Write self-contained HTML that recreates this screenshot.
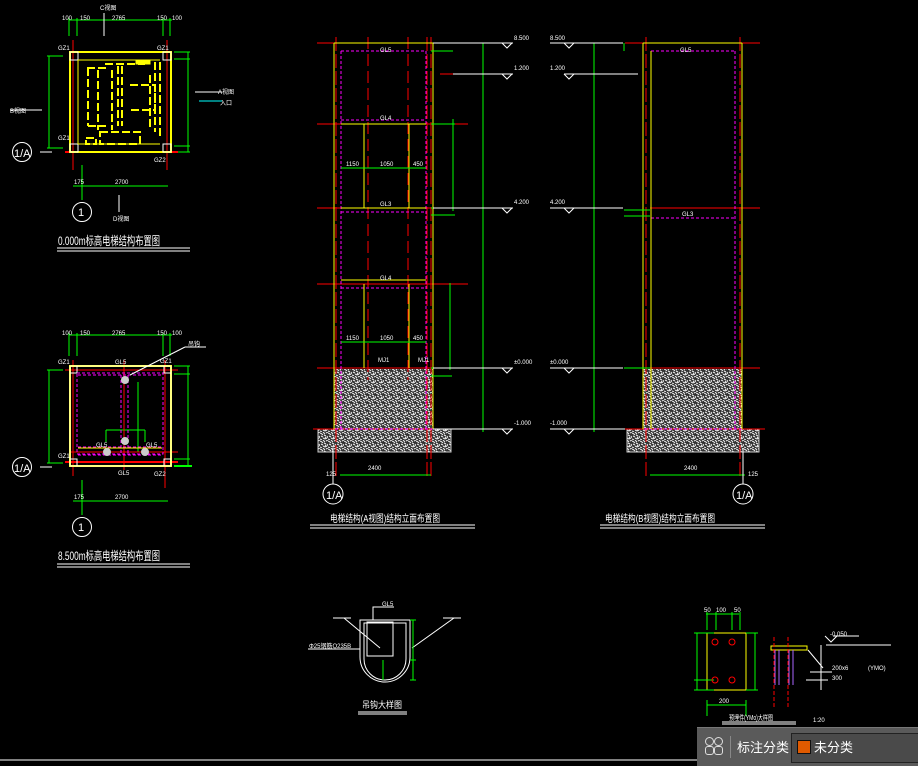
<!DOCTYPE html>
<html><head><meta charset="utf-8"><style>
html,body{margin:0;padding:0;background:#000;width:918px;height:765px;overflow:hidden}
svg{display:block}
text{font-family:"Liberation Sans","Noto Sans CJK SC",sans-serif;fill:#fff}
.tb{position:absolute;left:697px;top:727px;width:221px;height:38px;background:#5a5a5a;border-top:1px solid #777}
</style></head><body>
<svg width="918" height="765" viewBox="0 0 918 765" xmlns="http://www.w3.org/2000/svg">
<defs>
<pattern id="h" width="8" height="8" patternUnits="userSpaceOnUse">
<rect width="8" height="8" fill="#333"/>
<path d="M0 1l2 1M3 0l2 2M6 1l2-1M1 4l2 1M4 3l2 1M7 4l1 2M0 7l2 1M3 6l2 1M5 7l2-1M2 2l1 1M6 5l-1 1" stroke="#eee" stroke-width="1"/>
</pattern>
</defs>
<g fill="none" stroke-width="1">
<!-- ===== Plan 1 ===== -->
<g>
<line x1="69" y1="20" x2="172" y2="20" stroke="#0f0"/>
<line x1="69" y1="18" x2="69" y2="36" stroke="#0f0"/><line x1="77" y1="18" x2="77" y2="36" stroke="#0f0"/><line x1="163" y1="18" x2="163" y2="36" stroke="#0f0"/><line x1="170" y1="18" x2="170" y2="36" stroke="#0f0"/>
<line x1="49" y1="56" x2="49" y2="148" stroke="#0f0"/><line x1="47" y1="56" x2="63" y2="56" stroke="#0f0"/><line x1="47" y1="148" x2="63" y2="148" stroke="#0f0"/>
<line x1="188" y1="52" x2="188" y2="152" stroke="#0f0"/>
<line x1="174" y1="52" x2="190" y2="52" stroke="#0f0"/><line x1="174" y1="59" x2="190" y2="59" stroke="#0f0"/><line x1="174" y1="146" x2="190" y2="146" stroke="#0f0"/><line x1="174" y1="152" x2="190" y2="152" stroke="#0f0"/>
<line x1="73" y1="186" x2="168" y2="186" stroke="#0f0"/>
<line x1="82" y1="165" x2="82" y2="200" stroke="#0f0"/>
<line x1="73" y1="40" x2="73" y2="170" stroke="#f00"/><line x1="167" y1="40" x2="167" y2="170" stroke="#f00"/>
<line x1="65" y1="152" x2="178" y2="152" stroke="#f00" stroke-width="2"/>
<rect x="70" y="52" width="101" height="100" stroke="#ff0" stroke-width="2"/>
<rect x="70" y="52" width="8" height="8" stroke="#fff"/><rect x="163" y="52" width="8" height="8" stroke="#fff"/><rect x="70" y="144" width="8" height="8" stroke="#fff"/><rect x="163" y="144" width="8" height="8" stroke="#fff"/>
<line x1="78" y1="60" x2="160" y2="60" stroke="#ff0"/><line x1="78" y1="144" x2="160" y2="144" stroke="#ff0"/>
<line x1="78" y1="60" x2="78" y2="144" stroke="#ff0"/>
<path d="M87 68h20M88 68v58M88 126h18M98 70v60M112 70v60M130 85h25v25h-25M105 64h40M155 62v70M160 62v75M100 132h40v12h-40zM86 138h10v6h-10zM118 66v60M122 66v60M150 75v55" stroke="#ff0" stroke-dasharray="8 3" stroke-width="2"/>
<rect x="136" y="60" width="14" height="4" fill="#ff0" stroke="#ff0"/>
<line x1="10" y1="110" x2="42" y2="110" stroke="#fff"/>
<line x1="195" y1="92" x2="222" y2="92" stroke="#fff"/><line x1="199" y1="101" x2="222" y2="101" stroke="#0ff"/>
<line x1="104" y1="13" x2="104" y2="36" stroke="#fff"/><line x1="119" y1="195" x2="119" y2="212" stroke="#fff"/>
<line x1="40" y1="152" x2="52" y2="152" stroke="#fff"/>
<circle cx="22" cy="152" r="9.5" stroke="#fff"/><circle cx="82" cy="212" r="9.5" stroke="#fff"/>
<line x1="57" y1="248" x2="190" y2="248" stroke="#fff"/><line x1="57" y1="251" x2="190" y2="251" stroke="#fff"/>
</g>
<!-- ===== Plan 2 ===== -->
<g>
<line x1="69" y1="335" x2="172" y2="335" stroke="#0f0"/>
<line x1="69" y1="333" x2="69" y2="356" stroke="#0f0"/><line x1="77" y1="333" x2="77" y2="356" stroke="#0f0"/><line x1="163" y1="333" x2="163" y2="356" stroke="#0f0"/><line x1="170" y1="333" x2="170" y2="356" stroke="#0f0"/>
<line x1="49" y1="370" x2="49" y2="463" stroke="#0f0"/><line x1="47" y1="370" x2="63" y2="370" stroke="#0f0"/><line x1="47" y1="463" x2="63" y2="463" stroke="#0f0"/>
<line x1="188" y1="366" x2="188" y2="466" stroke="#0f0"/>
<line x1="174" y1="366" x2="190" y2="366" stroke="#0f0"/><line x1="174" y1="374" x2="190" y2="374" stroke="#0f0"/><line x1="174" y1="459" x2="190" y2="459" stroke="#0f0"/><line x1="174" y1="466" x2="192" y2="466" stroke="#0f0" stroke-width="2"/>
<line x1="73" y1="501" x2="168" y2="501" stroke="#0f0"/><line x1="82" y1="480" x2="82" y2="515" stroke="#0f0"/>
<line x1="106" y1="430" x2="145" y2="430" stroke="#0f0"/><line x1="106" y1="430" x2="106" y2="442" stroke="#0f0"/><line x1="145" y1="430" x2="145" y2="442" stroke="#0f0"/>
<line x1="138" y1="382" x2="138" y2="452" stroke="#0f0"/>
<line x1="73" y1="360" x2="73" y2="476" stroke="#f00"/><line x1="165" y1="360" x2="165" y2="488" stroke="#f00"/><line x1="124" y1="360" x2="124" y2="470" stroke="#f00"/>
<line x1="65" y1="370" x2="178" y2="370" stroke="#f00"/><line x1="65" y1="462" x2="178" y2="462" stroke="#f00" stroke-width="2"/><line x1="70" y1="452" x2="178" y2="452" stroke="#f00"/>
<rect x="70" y="366" width="101" height="100" stroke="#ff0" stroke-width="2"/>
<rect x="70" y="366" width="7" height="7" stroke="#fff"/><rect x="164" y="366" width="7" height="7" stroke="#fff"/><rect x="70" y="459" width="7" height="7" stroke="#fff"/><rect x="164" y="459" width="7" height="7" stroke="#fff"/>
<rect x="70" y="366" width="101" height="100" stroke="#fff"/>
<path d="M77 373h86v81H77zM78 375h84M121 375v80M128 375v80M78 447h84M78 455h84" stroke="#f0f" stroke-dasharray="3 2"/>
<line x1="78" y1="448" x2="162" y2="448" stroke="#ff0"/>
<circle cx="125" cy="380" r="4" fill="#ccc" stroke="none"/><circle cx="125" cy="441" r="4" fill="#ccc" stroke="none"/><circle cx="107" cy="452" r="4" fill="#ccc" stroke="none"/><circle cx="145" cy="452" r="4" fill="#ccc" stroke="none"/>
<line x1="130" y1="375" x2="185" y2="347" stroke="#fff"/><line x1="185" y1="347" x2="206" y2="347" stroke="#fff"/>
<line x1="40" y1="467" x2="52" y2="467" stroke="#fff"/>
<circle cx="22" cy="467" r="9.5" stroke="#fff"/><circle cx="82" cy="527" r="9.5" stroke="#fff"/>
<line x1="57" y1="564" x2="190" y2="564" stroke="#fff"/><line x1="57" y1="567" x2="190" y2="567" stroke="#fff"/>
</g>
<!-- ===== Elevation A ===== -->
<g>
<rect x="334" y="369" width="99" height="60" fill="url(#h)" stroke="none"/>
<rect x="318" y="429" width="133" height="23" fill="url(#h)" stroke="#ccc"/>
<path d="M317 43H468M317 124H468M317 208H468M317 284H468M317 368H468M313 429H465" stroke="#f00"/>
<path d="M368 37V380M408 37V380" stroke="#f00" stroke-dasharray="12 5"/>
<path d="M336 37V478M431 37V478M427 37V478" stroke="#f00" stroke-dasharray="14 3"/>
<rect x="334" y="43" width="99" height="386" stroke="#f0f" stroke-dasharray="3 2"/>
<path d="M341 51V429M426 51V429M341 51H426M341 120H426M341 212H426M341 288H426" stroke="#f0f" stroke-dasharray="3 2"/>
<path d="M334 43H433M341 124H426M341 208H426M341 280H426M364 124V208M409 124V208M364 284V368M409 284V368M334 43V429M433 43V429" stroke="#ff0"/>
<path d="M341 168H426M341 342H426M340 475H431" stroke="#0f0"/>
<path d="M453 119V211M450 283V370M431 51H453M431 124H455M431 208H455M431 215H455M431 368H452M431 376H452" stroke="#0f0"/>
<line x1="483" y1="43" x2="483" y2="432" stroke="#0f0"/>
<path d="M433 43H513M453 74H513M433 208H513M433 368H513M433 429H513" stroke="#fff"/>
<line x1="440" y1="74" x2="453" y2="74" stroke="#f00"/>
<path d="M502 43l5 5 5-5M502 74l5 5 5-5M502 208l5 5 5-5M502 368l5 5 5-5M502 429l5 5 5-5" stroke="#fff"/>
<line x1="333" y1="448" x2="333" y2="484" stroke="#fff"/>
<circle cx="333" cy="494" r="10" stroke="#fff"/>
<line x1="310" y1="525" x2="475" y2="525" stroke="#fff"/><line x1="310" y1="528" x2="475" y2="528" stroke="#fff"/>
</g>
<!-- ===== Elevation B ===== -->
<g>
<rect x="643" y="369" width="99" height="60" fill="url(#h)" stroke="none"/>
<rect x="627" y="429" width="132" height="23" fill="url(#h)" stroke="#ccc"/>
<path d="M625 43H760M650 208H760M650 368H760M625 429H765" stroke="#f00"/>
<line x1="624" y1="74" x2="638" y2="74" stroke="#f00"/>
<path d="M646 37V478M740 37V478" stroke="#f00" stroke-dasharray="14 3"/>
<rect x="643" y="43" width="99" height="386" stroke="#f0f" stroke-dasharray="3 2"/>
<path d="M651 51V429M735 51V429M651 51H735M651 218H735" stroke="#f0f" stroke-dasharray="3 2"/>
<path d="M643 43H742M643 43V429M651 51V429M742 43V429" stroke="#ff0"/>
<path d="M650 475H745M624 43V51M624 210H650M624 216H650M624 368H650" stroke="#0f0"/>
<line x1="594" y1="43" x2="594" y2="432" stroke="#0f0"/>
<path d="M550 43H623M564 74H638M550 208H623M550 368H623M550 429H625" stroke="#fff"/>
<path d="M564 43l5 5 5-5M564 74l5 5 5-5M564 208l5 5 5-5M564 368l5 5 5-5M564 429l5 5 5-5" stroke="#fff"/>
<line x1="743" y1="448" x2="743" y2="484" stroke="#fff"/>
<circle cx="743" cy="494" r="10" stroke="#fff"/>
<line x1="600" y1="525" x2="765" y2="525" stroke="#fff"/><line x1="600" y1="528" x2="765" y2="528" stroke="#fff"/>
</g>
<!-- ===== Hook detail ===== -->
<g stroke="#fff">
<path d="M360 620v37a25 25 0 0 0 50 0v-37z"/>
<path d="M364 623v36a21 21 0 0 0 42 0v-36z"/>
<rect x="367" y="622" width="26" height="34"/>
<path d="M373 620v-13h21M333 618h18M443 618h18M344 618l36 30M454 618l-42 30M308 649h52"/>
<path d="M410 620h6M410 660h6M410 680h6" stroke="#0f0"/><line x1="413" y1="620" x2="413" y2="680" stroke="#0f0"/>
<line x1="383" y1="660" x2="383" y2="680" stroke="#0f0"/>
<line x1="358" y1="712" x2="407" y2="712" /><line x1="358" y1="714" x2="407" y2="714"/>
</g>
<!-- ===== Embed plate ===== -->
<g>
<rect x="707" y="633" width="39" height="57" stroke="#ff0"/>
<path d="M706 614h33M707 612v18M716 612v18M732 612v18M740 612v18M694 633h20M694 680h20M694 690h20M697 633v57M746 633h12M746 690h12M755 633v57M707 705h39M707 700v16M746 700v16" stroke="#0f0"/>
<g stroke="#f00"><circle cx="715" cy="642" r="3"/><circle cx="732" cy="642" r="3"/><circle cx="715" cy="680" r="3"/><circle cx="732" cy="680" r="3"/></g>
<rect x="771" y="646" width="36" height="4" stroke="#ff0"/>
<path d="M775 650v35M779 650v35M789 650v35M793 650v35" stroke="#a6f"/>
<path d="M774 637v70M788 637v70" stroke="#f00" stroke-dasharray="4 2"/>
<path d="M808 650l15 18M826 645h65M810 672h22M806 680h22M821 645v45" stroke="#fff"/>
<path d="M825 636l6 6 6-6M833 636h26" stroke="#fff"/>
<line x1="722" y1="722" x2="796" y2="722" stroke="#fff"/><line x1="722" y1="724" x2="796" y2="724" stroke="#fff"/>
</g>
<line x1="0" y1="760" x2="697" y2="760" stroke="#fff"/>
</g>
<!-- texts -->
<g font-size="6">
<text x="100" y="10">C视图</text><text x="112" y="20">2765</text><text x="62" y="20">100</text><text x="80" y="20">150</text><text x="157" y="20">150</text><text x="172" y="20">100</text>
<text x="58" y="50">GZ1</text><text x="157" y="50">GZ1</text><text x="58" y="140">GZ1</text><text x="154" y="162">GZ2</text>
<text x="10" y="113">B视图</text><text x="218" y="94">A视图</text><text x="220" y="105">入口</text>
<text x="113" y="221">D视图</text><text x="115" y="184">2700</text><text x="74" y="184">175</text>
<text x="14" y="157" font-size="11">1/A</text><text x="78" y="216" font-size="11">1</text>
<text x="58" y="245" font-size="12" textLength="102" lengthAdjust="spacingAndGlyphs">0.000m标高电梯结构布置图</text>
<text x="112" y="335">2765</text><text x="62" y="335">100</text><text x="80" y="335">150</text><text x="157" y="335">150</text><text x="172" y="335">100</text>
<text x="58" y="364">GZ1</text><text x="115" y="364">GL5</text><text x="160" y="363">GZ1</text><text x="58" y="458">GZ1</text><text x="118" y="475">GL5</text><text x="154" y="476">GZ2</text>
<text x="96" y="447">GL5</text><text x="146" y="447">GL5</text><text x="188" y="346" fill="#f0f">吊钩</text>
<text x="115" y="499">2700</text><text x="74" y="499">175</text>
<text x="14" y="472" font-size="11">1/A</text><text x="78" y="531" font-size="11">1</text>
<text x="58" y="560" font-size="12" textLength="102" lengthAdjust="spacingAndGlyphs">8.500m标高电梯结构布置图</text>
<text x="380" y="52">GL5</text><text x="380" y="120">GL4</text><text x="380" y="206">GL3</text><text x="380" y="280">GL4</text>
<text x="346" y="166">1150</text><text x="380" y="166">1050</text><text x="413" y="166">450</text>
<text x="346" y="340">1150</text><text x="380" y="340">1050</text><text x="413" y="340">450</text>
<text x="378" y="362">MJ1</text><text x="418" y="362">MJ1</text>
<text x="514" y="40">8.500</text><text x="514" y="70">1.200</text><text x="514" y="204">4.200</text><text x="514" y="364">±0.000</text><text x="514" y="425">-1.000</text>
<text x="368" y="470">2400</text><text x="326" y="476">125</text>
<text x="326" y="499" font-size="11">1/A</text>
<text x="330" y="522" font-size="10" textLength="110" lengthAdjust="spacingAndGlyphs">电梯结构(A视图)结构立面布置图</text>
<text x="550" y="40">8.500</text><text x="550" y="70">1.200</text><text x="550" y="204">4.200</text><text x="550" y="364">±0.000</text><text x="550" y="425">-1.000</text>
<text x="680" y="52">GL5</text><text x="682" y="216">GL3</text><text x="684" y="470">2400</text><text x="748" y="476">125</text>
<text x="736" y="499" font-size="11">1/A</text>
<text x="605" y="522" font-size="10" textLength="110" lengthAdjust="spacingAndGlyphs">电梯结构(B视图)结构立面布置图</text>
<text x="382" y="606">GL5</text><text x="309" y="648">Φ25钢筋Q235B</text>
<text x="362" y="708" font-size="9" textLength="40" lengthAdjust="spacingAndGlyphs">吊钩大样图</text>
<text x="704" y="612">50</text><text x="716" y="612">100</text><text x="734" y="612">50</text><text x="719" y="703">200</text>
<text x="830" y="636">-0.050</text><text x="832" y="670">200x6</text><text x="868" y="670">(YMO)</text><text x="832" y="680">300</text>
<text x="729" y="720" font-size="7" textLength="44" lengthAdjust="spacingAndGlyphs">预埋件(YMo)大样图</text><text x="813" y="722">1:20</text>
</g>
</svg>
<div class="tb">
<div style="position:absolute;left:8px;top:9px;width:18px;height:18px">
<div style="position:absolute;left:0;top:0;width:7px;height:7px;border:1.5px solid #ddd;border-radius:50%"></div>
<div style="position:absolute;left:9px;top:0;width:7px;height:7px;border:1.5px solid #ddd;border-radius:50%"></div>
<div style="position:absolute;left:0;top:9px;width:7px;height:7px;border:1.5px solid #ddd;border-radius:3px"></div>
<div style="position:absolute;left:9px;top:9px;width:7px;height:7px;border:1.5px solid #ddd;border-radius:3px"></div>
</div>
<div style="position:absolute;left:33px;top:8px;width:1px;height:22px;background:#888"></div>
<div style="position:absolute;left:40px;top:9px;color:#fff;font:13px 'Liberation Sans','Noto Sans CJK SC',sans-serif">标注分类</div>
<div style="position:absolute;left:94px;top:5px;width:130px;height:28px;border:1px solid #222;background:#4a4a4a"></div>
<div style="position:absolute;left:100px;top:12px;width:12px;height:12px;background:#e05a00;border:1px solid #111"></div>
<div style="position:absolute;left:117px;top:9px;color:#fff;font:13px 'Liberation Sans','Noto Sans CJK SC',sans-serif">未分类</div>
</div>
</body></html>
